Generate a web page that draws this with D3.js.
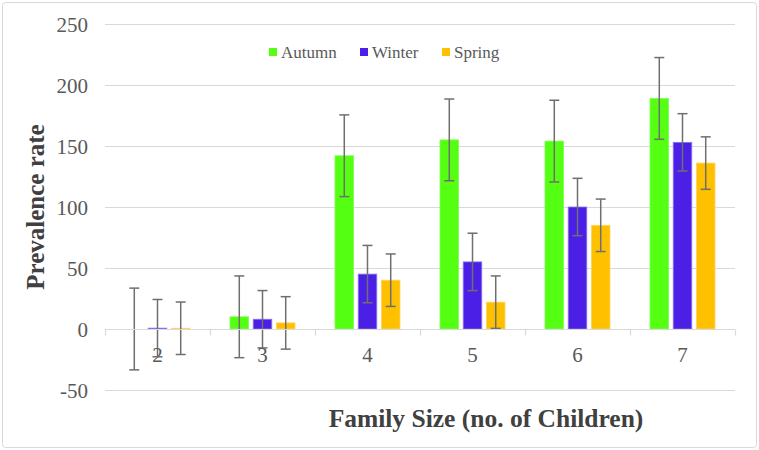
<!DOCTYPE html>
<html>
<head>
<meta charset="utf-8">
<script src="https://cdn.jsdelivr.net/npm/d3@7/dist/d3.min.js"></script>
<style>
  html, body { margin: 0; padding: 0; background: #fff; }
  svg { display: block; }
  svg text { font-family: "Liberation Serif", "Times New Roman", serif; }
</style>
</head>
<body>
<svg id="chart" width="759" height="450"></svg>
<script>
const categories = ["2", "3", "4", "5", "6", "7"];
const seriesNames = ["Autumn", "Winter", "Spring"];
const autumn = [0, 10, 142, 155, 154, 189];
const winter = [0.7, 8, 45, 55, 100, 153];
const spring = [0.6, 5, 40, 22, 85, 136];
const autumnErr = [33.5, 33.5, 33.5, 33.5, 33.5, 33.5];
const winterErr = [23.5, 23.5, 23.5, 23.5, 23.5, 23.5];
const springErr = [21.5, 21.5, 21.5, 21.5, 21.5, 21.5];
const yTicks = [-50, 0, 50, 100, 150, 200, 250];
const colors = ["#55FF11", "#4B1FE6", "#FFC000"];
const outlines = ["#7dff55", "#8a77f0", "#ffd460"];

const seriesValues = [autumn, winter, spring];
const seriesErrs = [autumnErr, winterErr, springErr];
const SERIF = "'Liberation Serif', 'Times New Roman', serif";

const svg = d3.select("#chart");
const W = 759, H = 450;
const plotL = 105, plotR = 735, plotT = 24, plotB = 390;

svg.append("rect")
  .attr("x", 2.5).attr("y", 2.5).attr("width", W - 5).attr("height", H - 5)
  .attr("rx", 3).attr("fill", "#fff").attr("stroke", "#d9d9d9").attr("stroke-width", 1);

const x = d3.scaleBand().domain(categories).range([plotL, plotR]).paddingInner(0).paddingOuter(0);
const y = d3.scaleLinear().domain([-50, 250]).range([plotB, plotT]);

const groupW = 65;
const x1 = d3.scaleBand().domain(seriesNames).range([0, groupW]).paddingInner(0.2).paddingOuter(0);

// gridlines
svg.append("g").selectAll("line").data(yTicks.filter(t => t !== 0)).join("line")
  .attr("x1", plotL).attr("x2", plotR)
  .attr("y1", d => Math.round(y(d)) + 0.5).attr("y2", d => Math.round(y(d)) + 0.5)
  .attr("stroke", "#d9d9d9").attr("stroke-width", 1);

// y tick labels
const yAxis = d3.axisLeft(y).tickValues(yTicks).tickSize(0).tickPadding(0).tickFormat(d => String(d));
const yg = svg.append("g").attr("transform", `translate(${88},0)`).call(yAxis);
yg.attr("font-family", null);
yg.select(".domain").remove();
yg.selectAll("text")
  .style("font-family", SERIF)
  .attr("font-size", 21).attr("fill", "#595959").attr("dy", "0.34em");

// bars
const groups = svg.append("g").selectAll("g").data(categories).join("g")
  .attr("transform", d => `translate(${x(d) + (x.bandwidth() - groupW) / 2},0)`);

seriesNames.forEach((s, si) => {
  groups.append("rect")
    .attr("x", x1(s))
    .attr("width", x1.bandwidth())
    .attr("y", (d, i) => y(Math.max(0, seriesValues[si][i])))
    .attr("height", (d, i) => Math.abs(y(seriesValues[si][i]) - y(0)))
    .attr("fill", colors[si])
    .attr("stroke", outlines[si]).attr("stroke-width", 0.8);
});

// x axis line and ticks at y=0
const xg = svg.append("g").attr("transform", `translate(0,${Math.round(y(0)) + 0.5})`);
xg.append("line").attr("x1", plotL).attr("x2", plotR).attr("stroke", "#d9d9d9").attr("stroke-width", 1.2);
const boundaries = categories.map(c => x(c)).concat([plotR]);
xg.selectAll("line.tk").data(boundaries).join("line").attr("class", "tk")
  .attr("x1", d => Math.round(d) + 0.5).attr("x2", d => Math.round(d) + 0.5)
  .attr("y1", 0).attr("y2", 6).attr("stroke", "#d9d9d9").attr("stroke-width", 1.2);

// error bars
seriesNames.forEach((s, si) => {
  const eg = groups.append("g").attr("class", "err");
  const cx = x1(s) + x1.bandwidth() / 2;
  eg.append("line")
    .attr("x1", cx).attr("x2", cx)
    .attr("y1", (d, i) => y(seriesValues[si][i] + seriesErrs[si][i]))
    .attr("y2", (d, i) => y(seriesValues[si][i] - seriesErrs[si][i]))
    .attr("stroke", "#6f6f6f").attr("stroke-width", 1.5);
  [1, -1].forEach(sign => {
    eg.append("line")
      .attr("x1", cx - 5).attr("x2", cx + 5)
      .attr("y1", (d, i) => y(seriesValues[si][i] + sign * seriesErrs[si][i]))
      .attr("y2", (d, i) => y(seriesValues[si][i] + sign * seriesErrs[si][i]))
      .attr("stroke", "#6f6f6f").attr("stroke-width", 1.5);
  });
});

// x category labels
svg.append("g").selectAll("text").data(categories).join("text")
  .attr("x", d => x(d) + x.bandwidth() / 2)
  .attr("y", 362)
  .attr("text-anchor", "middle")
  .style("font-family", SERIF)
  .attr("font-size", 21).attr("fill", "#595959")
  .text(d => d);

// legend
const legendX = [269, 360, 442];
const lg = svg.append("g");
seriesNames.forEach((s, si) => {
  lg.append("rect").attr("x", legendX[si]).attr("y", 48).attr("width", 8).attr("height", 8).attr("fill", colors[si]);
  lg.append("text").attr("x", legendX[si] + 12).attr("y", 58)
    .style("font-family", SERIF)
    .attr("font-size", 17).attr("fill", "#595959").text(s);
});

// axis titles
svg.append("text")
  .attr("transform", `translate(44,${(y(250) + y(-50)) / 2}) rotate(-90)`)
  .attr("text-anchor", "middle")
  .style("font-family", SERIF)
  .attr("font-weight", "bold").attr("font-size", 25).attr("fill", "#404040")
  .text("Prevalence rate");

svg.append("text")
  .attr("x", 486).attr("y", 427)
  .attr("text-anchor", "middle")
  .style("font-family", SERIF)
  .attr("font-weight", "bold").attr("font-size", 25.5).attr("fill", "#404040")
  .text("Family Size (no. of Children)");
</script>
</body>
</html>
